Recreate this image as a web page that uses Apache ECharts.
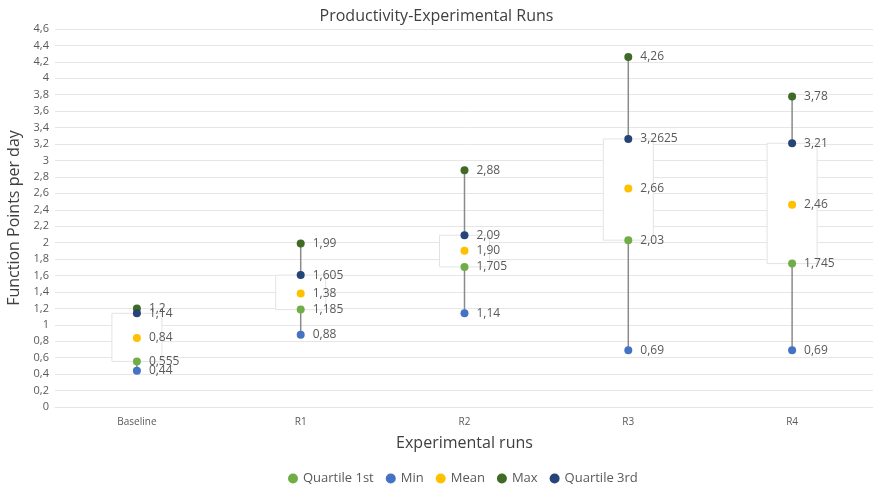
<!DOCTYPE html>
<html>
<head>
<meta charset="utf-8">
<script src="https://cdn.jsdelivr.net/npm/echarts@6/dist/echarts.min.js"></script>
<style>
html,body{margin:0;padding:0;background:#fff;}
#chart{width:873px;height:485px;}
</style>
</head>
<body>
<div id="chart"></div>
<script>
// Productivity per run: five-number summary plus mean
const categories = ['Baseline', 'R1', 'R2', 'R3', 'R4'];
const quartile1 = [0.555, 1.185, 1.705, 2.03, 1.745];
const minimum   = [0.44, 0.88, 1.14, 0.69, 0.69];
const mean      = [0.84, 1.38, 1.90, 2.66, 2.46];
const maximum   = [1.2, 1.99, 2.88, 4.26, 3.78];
const quartile3 = [1.14, 1.605, 2.09, 3.2625, 3.21];

const FONT = '"Open Sans", "Noto Sans", sans-serif';
const fmtComma = v => String(v).replace('.', ',');
const fmtMean = v => v.toFixed(2).replace('.', ',');

// whisker + box data: [index, min, q1, q3, max]
const boxData = categories.map((c, i) => [i, minimum[i], quartile1[i], quartile3[i], maximum[i]]);

function scatter(name, values, color, fmt) {
  return {
    name: name,
    type: 'scatter',
    symbol: 'circle',
    symbolSize: 8,
    z: 5,
    itemStyle: { color: color, opacity: 1 },
    data: values.map((v, i) => [i, v]),
    label: {
      show: true,
      position: 'right',
      distance: 8,
      color: '#595959',
      fontSize: 12,
      fontFamily: FONT,
      formatter: p => fmt(p.value[1])
    },
    labelLayout: { hideOverlap: false }
  };
}

const chart = echarts.init(document.getElementById('chart'));
chart.setOption({
  animation: false,
  backgroundColor: '#fff',
  title: {
    text: 'Productivity-Experimental Runs',
    left: 'center',
    top: 3,
    textStyle: { fontFamily: FONT, fontSize: 16, fontWeight: 'normal', color: '#404040' }
  },
  grid: { left: 55, right: -1, top: 29, bottom: 78, outerBoundsMode: 'none', containLabel: false },
  legend: {
    top: 467,
    left: 283,
    icon: 'circle',
    itemWidth: 10,
    itemHeight: 10,
    itemGap: 12,
    textStyle: { fontFamily: FONT, fontSize: 13, color: '#595959' },
    data: ['Quartile 1st', 'Min', 'Mean', 'Max', 'Quartile 3rd']
  },
  xAxis: {
    type: 'category',
    data: categories,
    boundaryGap: true,
    name: 'Experimental runs',
    nameLocation: 'middle',
    nameGap: 28,
    nameTextStyle: { fontFamily: FONT, fontSize: 16, color: '#404040' },
    axisLine: { show: true, lineStyle: { color: '#e6e6e6' } },
    axisTick: { show: false },
    axisLabel: { fontFamily: FONT, fontSize: 10, color: '#595959', margin: 10 }
  },
  yAxis: {
    type: 'value',
    min: 0,
    max: 4.6,
    interval: 0.2,
    name: 'Function Points per day',
    nameLocation: 'middle',
    nameGap: 33,
    nameTextStyle: { fontFamily: FONT, fontSize: 16, color: '#404040' },
    axisLine: { show: false },
    axisTick: { show: false },
    splitLine: { lineStyle: { color: '#e6e6e6', width: 1 } },
    axisLabel: {
      fontFamily: FONT, fontSize: 11, color: '#595959', margin: 6,
      formatter: v => fmtComma(Math.round(v * 10) / 10)
    }
  },
  series: [
    {
      name: 'range',
      type: 'custom',
      z: 2,
      data: boxData,
      encode: { x: 0, y: [1, 2, 3, 4] },
      renderItem: function (params, api) {
        const i = api.value(0);
        const pMin = api.coord([i, api.value(1)]);
        const pQ1 = api.coord([i, api.value(2)]);
        const pQ3 = api.coord([i, api.value(3)]);
        const pMax = api.coord([i, api.value(4)]);
        const w = 50;
        return {
          type: 'group',
          children: [
            {
              type: 'line',
              shape: { x1: pMin[0], y1: pMin[1], x2: pMax[0], y2: pMax[1] },
              style: { stroke: '#8a8a8a', lineWidth: 1.5 }
            },
            {
              type: 'rect',
              shape: { x: pQ3[0] - w / 2, y: pQ3[1], width: w, height: pQ1[1] - pQ3[1] },
              style: { fill: '#ffffff', stroke: '#e3e3e3', lineWidth: 1 }
            }
          ]
        };
      }
    },
    scatter('Quartile 1st', quartile1, '#70ad47', fmtComma),
    scatter('Min', minimum, '#4472c4', fmtComma),
    scatter('Mean', mean, '#ffc000', fmtMean),
    scatter('Max', maximum, '#3f6b26', fmtComma),
    scatter('Quartile 3rd', quartile3, '#264478', fmtComma)
  ]
});
</script>
</body>
</html>
